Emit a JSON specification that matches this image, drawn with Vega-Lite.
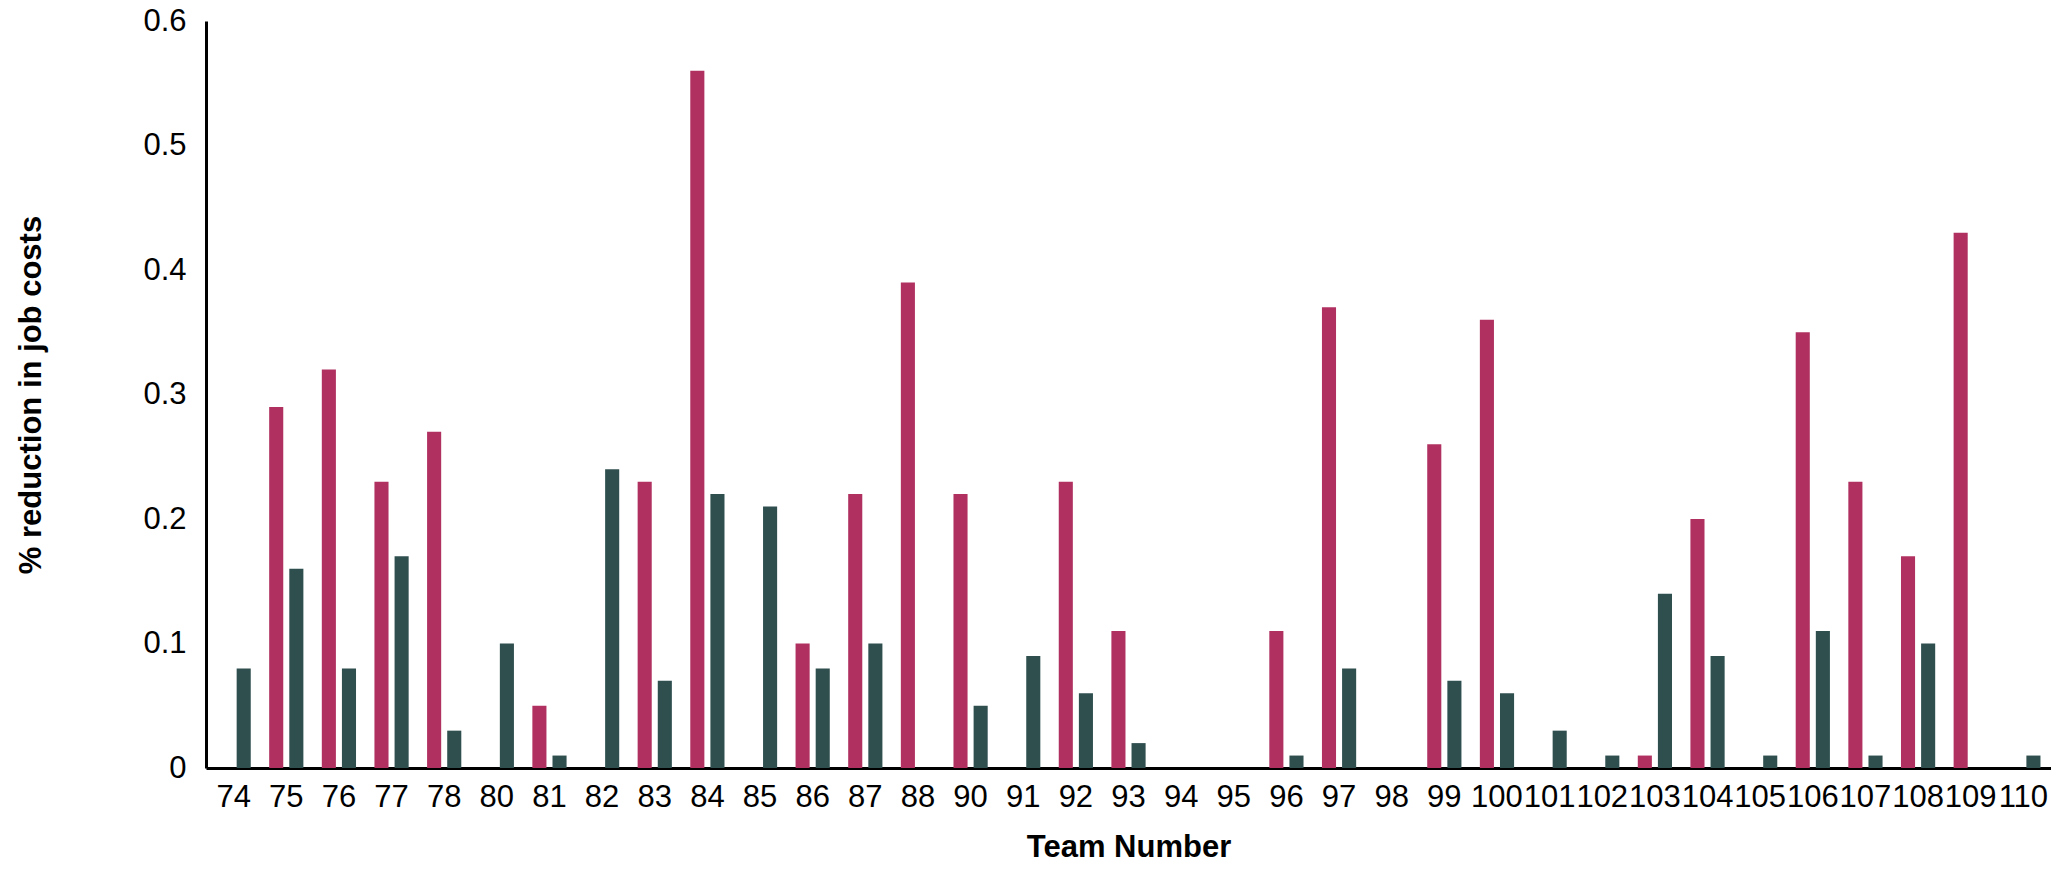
{
  "$schema": "https://vega.github.io/schema/vega-lite/v6.json",
  "width": 1845,
  "height": 747,
  "autosize": {"type": "none"},
  "padding": {"left": 206, "top": 21, "right": 0, "bottom": 109},
  "config": {"view": {"stroke": null}, "font": "Liberation Sans"},
  "data": {"values": [
    {"team":"74","s":"a","v":0},{"team":"74","s":"b","v":0.08},
    {"team":"75","s":"a","v":0.29},{"team":"75","s":"b","v":0.16},
    {"team":"76","s":"a","v":0.32},{"team":"76","s":"b","v":0.08},
    {"team":"77","s":"a","v":0.23},{"team":"77","s":"b","v":0.17},
    {"team":"78","s":"a","v":0.27},{"team":"78","s":"b","v":0.03},
    {"team":"80","s":"a","v":0},{"team":"80","s":"b","v":0.10},
    {"team":"81","s":"a","v":0.05},{"team":"81","s":"b","v":0.01},
    {"team":"82","s":"a","v":0},{"team":"82","s":"b","v":0.24},
    {"team":"83","s":"a","v":0.23},{"team":"83","s":"b","v":0.07},
    {"team":"84","s":"a","v":0.56},{"team":"84","s":"b","v":0.22},
    {"team":"85","s":"a","v":0},{"team":"85","s":"b","v":0.21},
    {"team":"86","s":"a","v":0.10},{"team":"86","s":"b","v":0.08},
    {"team":"87","s":"a","v":0.22},{"team":"87","s":"b","v":0.10},
    {"team":"88","s":"a","v":0.39},{"team":"88","s":"b","v":0},
    {"team":"90","s":"a","v":0.22},{"team":"90","s":"b","v":0.05},
    {"team":"91","s":"a","v":0},{"team":"91","s":"b","v":0.09},
    {"team":"92","s":"a","v":0.23},{"team":"92","s":"b","v":0.06},
    {"team":"93","s":"a","v":0.11},{"team":"93","s":"b","v":0.02},
    {"team":"94","s":"a","v":0},{"team":"94","s":"b","v":0},
    {"team":"95","s":"a","v":0},{"team":"95","s":"b","v":0},
    {"team":"96","s":"a","v":0.11},{"team":"96","s":"b","v":0.01},
    {"team":"97","s":"a","v":0.37},{"team":"97","s":"b","v":0.08},
    {"team":"98","s":"a","v":0},{"team":"98","s":"b","v":0},
    {"team":"99","s":"a","v":0.26},{"team":"99","s":"b","v":0.07},
    {"team":"100","s":"a","v":0.36},{"team":"100","s":"b","v":0.06},
    {"team":"101","s":"a","v":0},{"team":"101","s":"b","v":0.03},
    {"team":"102","s":"a","v":0},{"team":"102","s":"b","v":0.01},
    {"team":"103","s":"a","v":0.01},{"team":"103","s":"b","v":0.14},
    {"team":"104","s":"a","v":0.20},{"team":"104","s":"b","v":0.09},
    {"team":"105","s":"a","v":0},{"team":"105","s":"b","v":0.01},
    {"team":"106","s":"a","v":0.35},{"team":"106","s":"b","v":0.11},
    {"team":"107","s":"a","v":0.23},{"team":"107","s":"b","v":0.01},
    {"team":"108","s":"a","v":0.17},{"team":"108","s":"b","v":0.10},
    {"team":"109","s":"a","v":0.43},{"team":"109","s":"b","v":0},
    {"team":"110","s":"a","v":0},{"team":"110","s":"b","v":0.01}
  ]},
  "mark": {"type": "bar"},
  "encoding": {
    "x": {"field": "team", "type": "nominal", "sort": null,
      "scale": {"paddingInner": 0.35, "paddingOuter": 0.2},
      "axis": {"title": "Team Number", "labelAngle": 0, "labelFontSize": 31, "labelColor": "#000",
        "labelOverlap": false, "labelFlush": false,
        "titleFontSize": 31, "titleColor": "#000", "titleFontWeight": "bold", "titlePadding": 20,
        "ticks": false, "labelPadding": 14, "domainColor": "#000", "domainWidth": 3}},
    "xOffset": {"field": "s", "type": "nominal", "scale": {"paddingInner": 0.3}},
    "y": {"field": "v", "type": "quantitative",
      "scale": {"domain": [0, 0.6], "nice": false},
      "axis": {"title": "% reduction in job costs", "values": [0,0.1,0.2,0.3,0.4,0.5,0.6], "format": "~g",
        "grid": false, "ticks": false, "labelFontSize": 31, "labelColor": "#000", "labelPadding": 20,
        "titleFontSize": 31, "titleColor": "#000", "titleFontWeight": "bold", "titlePadding": 95,
        "domainColor": "#000", "domainWidth": 3}},
    "color": {"field": "s", "type": "nominal", "legend": null,
      "scale": {"domain": ["a","b"], "range": ["#b03060", "#2f4f4f"]}}
  }
}
